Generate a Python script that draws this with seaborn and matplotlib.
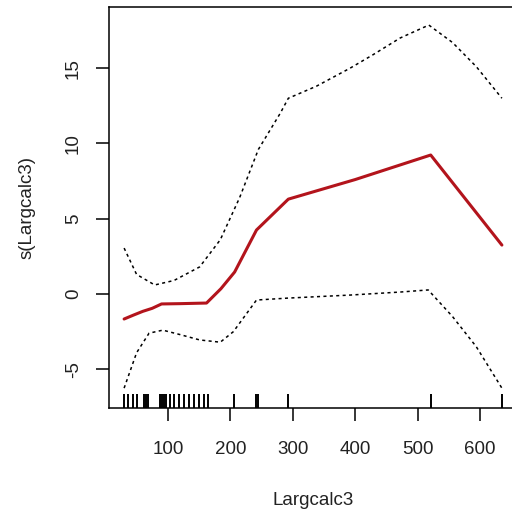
import matplotlib
matplotlib.use("Agg")
import matplotlib.pyplot as plt
import seaborn as sns
import pandas as pd

# ---- data ----
fit_x = [30, 45, 60, 75, 90, 120, 162, 185, 207, 242, 293, 400, 521, 635]
fit_y = [-1.66, -1.4, -1.15, -0.95, -0.66, -0.64, -0.6, 0.35, 1.46, 4.25, 6.3, 7.6, 9.23, 3.25]

upper_x = [30, 50, 79, 110, 151, 184, 215, 245, 280, 293, 338, 392, 429, 472, 518, 556, 594, 635]
upper_y = [3.05, 1.3, 0.6, 0.9, 1.8, 3.6, 6.4, 9.6, 12.0, 13.0, 13.8, 15.0, 15.9, 17.0, 17.86, 16.7, 15.1, 13.0]

lower_x = [30, 50, 70, 92, 120, 151, 184, 205, 242, 293, 392, 472, 517, 556, 594, 635]
lower_y = [-6.25, -3.9, -2.6, -2.4, -2.7, -3.05, -3.2, -2.5, -0.4, -0.27, -0.07, 0.13, 0.27, -1.5, -3.5, -6.25]

rug_x = [30, 36, 44, 50, 62, 65, 68, 87, 90, 94, 97, 103, 110, 118, 126, 134,
         142, 150, 158, 164, 206, 241, 244, 292, 521, 635]

x_ticks = [100, 200, 300, 400, 500, 600]
y_ticks = [-5, 0, 5, 10, 15]
x_label = "Largcalc3"
y_label = "s(Largcalc3)"

sns.set_theme(style="white")
plt.rcParams["font.family"] = ["Liberation Sans", "DejaVu Sans"]

fig = plt.figure(figsize=(5.12, 5.14), dpi=100)
ax = fig.add_axes([109 / 512, 106 / 514, 408 / 512, 401 / 514])

fit = pd.DataFrame({"x": fit_x, "y": fit_y})
up = pd.DataFrame({"x": upper_x, "y": upper_y})
lo = pd.DataFrame({"x": lower_x, "y": lower_y})
rug = pd.DataFrame({"x": rug_x})

sns.lineplot(data=up, x="x", y="y", ax=ax, color="black", linewidth=1.1,
             linestyle=(0, (2, 2.2)), sort=False, estimator=None)
sns.lineplot(data=lo, x="x", y="y", ax=ax, color="black", linewidth=1.1,
             linestyle=(0, (2, 2.2)), sort=False, estimator=None)
sns.lineplot(data=fit, x="x", y="y", ax=ax, color="#b3141c", linewidth=2.2,
             sort=False, estimator=None)
sns.rugplot(data=rug, x="x", ax=ax, height=0.035, color="black", linewidth=1.4)

ax.set_xlim(5.8, 659.2)
ax.set_ylim(-7.57, 19.06)
ax.set_xticks(x_ticks)
ax.set_yticks(y_ticks)
ax.set_xticklabels([str(v) for v in x_ticks])
ax.set_yticklabels([str(v) for v in y_ticks], rotation=90, va="center")

for s in ax.spines.values():
    s.set_visible(True)
    s.set_color("black")
    s.set_linewidth(1.1)

ax.tick_params(axis="both", direction="out", length=9.5, width=1.1, color="black",
               labelsize=13.5, labelcolor="#222222", bottom=True, left=True)
ax.tick_params(axis="x", pad=14)
ax.tick_params(axis="y", pad=10)

ax.set_xlabel(x_label, fontsize=13.5, color="#222222", labelpad=24.5)
ax.set_ylabel(y_label, fontsize=13.5, color="#222222", labelpad=21)

fig.savefig("out.png", dpi=100)
